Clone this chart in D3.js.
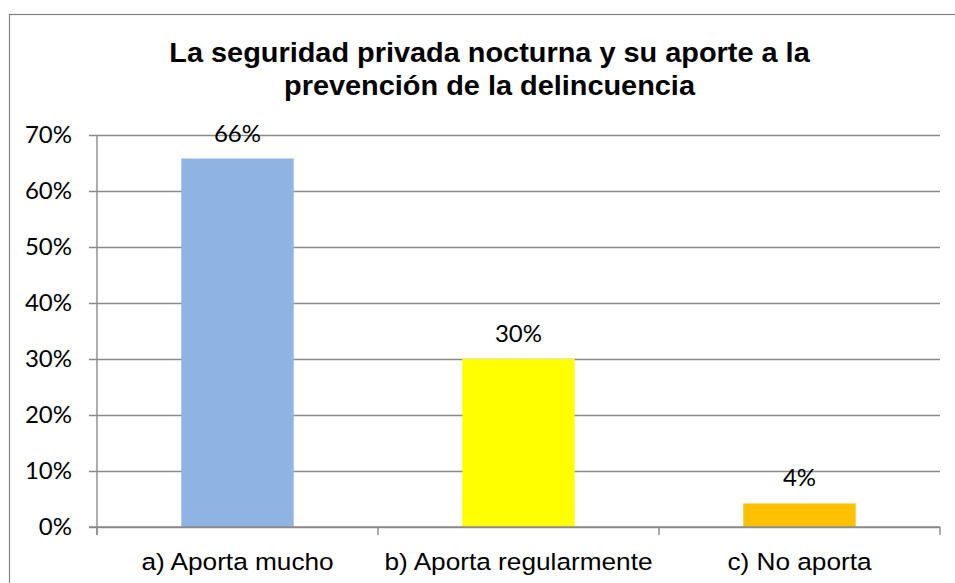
<!DOCTYPE html>
<html>
<head>
<meta charset="utf-8">
<script src="https://cdn.jsdelivr.net/npm/d3@7"></script>
<style>
  html, body { margin: 0; padding: 0; background: #fff; }
  svg { display: block; }
</style>
</head>
<body>
<svg id="chart" width="955" height="583"></svg>
<script>
const titleLines = ["La seguridad privada nocturna y su aporte a la", "prevención de la delincuencia"];
const categories = ["a) Aporta mucho", "b) Aporta regularmente", "c) No aporta"];
const values = [0.658, 0.30, 0.042];
const valueLabels = ["66%", "30%", "4%"];
const barColors = ["#8EB4E3", "#FFFF00", "#FFC000"];
const yTicks = [0, 0.1, 0.2, 0.3, 0.4, 0.5, 0.6, 0.7];

const svg = d3.select("#chart");
const W = 955, H = 583;
const plot = { left: 97, right: 940, top: 135, bottom: 527 };
const gridColor = "#8a8a8a";
const tickFont = "Lato, 'Open Sans', sans-serif";
const stretch = 1.07;

svg.append("rect").attr("width", W).attr("height", H).attr("fill", "#fff");

// outer frame
svg.append("rect")
  .attr("x", 9.5).attr("y", 14.5)
  .attr("width", 960).attr("height", 600)
  .attr("fill", "none").attr("stroke", "#808080").attr("stroke-width", 1.2);

// title
const title = svg.append("g");
titleLines.forEach((t, i) => {
  title.append("text")
    .attr("transform", `translate(489.5,${62 + i * 33}) scale(${stretch},1)`)
    .attr("text-anchor", "middle")
    .attr("font-family", "'Liberation Sans', Arial, sans-serif")
    .attr("font-weight", "bold")
    .attr("font-size", 27)
    .attr("fill", "#000")
    .text(t);
});

const x = d3.scaleBand().domain(categories).range([plot.left, plot.right]).paddingInner(0.6).paddingOuter(0.3);
const y = d3.scaleLinear().domain([0, 0.7]).range([plot.bottom, plot.top]);

// horizontal gridlines with y axis
const yAxis = d3.axisLeft(y).tickValues(yTicks).tickFormat(d3.format(".0%"))
  .tickSize(-(plot.right - plot.left)).tickPadding(17);
const yg = svg.append("g").attr("transform", `translate(${plot.left},0)`).call(yAxis);
yg.select(".domain").remove();
yg.selectAll(".tick line").attr("stroke", gridColor).attr("stroke-width", 1.4).attr("x1", -8);
yg.selectAll(".tick text")
  .attr("font-family", tickFont).attr("font-size", 24).attr("fill", "#000")
  .attr("x", -25);

// y axis vertical line
svg.append("line")
  .attr("x1", plot.left).attr("x2", plot.left)
  .attr("y1", plot.top).attr("y2", plot.bottom + 8)
  .attr("stroke", gridColor).attr("stroke-width", 1.4);

// bars
svg.append("g").selectAll("rect").data(categories).join("rect")
  .attr("x", d => x(d))
  .attr("width", x.bandwidth())
  .attr("y", (d, i) => y(values[i]))
  .attr("height", (d, i) => y(0) - y(values[i]))
  .attr("fill", (d, i) => barColors[i]);

// x axis
svg.append("line")
  .attr("x1", plot.left - 8).attr("x2", plot.right)
  .attr("y1", plot.bottom).attr("y2", plot.bottom)
  .attr("stroke", gridColor).attr("stroke-width", 1.6);
const step = (plot.right - plot.left) / categories.length;
const tickXs = d3.range(categories.length + 1).map(i => plot.left + i * step);
svg.append("g").selectAll("line").data(tickXs).join("line")
  .attr("x1", d => d).attr("x2", d => d)
  .attr("y1", plot.bottom).attr("y2", plot.bottom + 8)
  .attr("stroke", gridColor).attr("stroke-width", 1.4);

// category labels
svg.append("g").selectAll("text").data(categories).join("text")
  .attr("transform", d => `translate(${x(d) + x.bandwidth() / 2},570) scale(${stretch},1)`)
  .attr("text-anchor", "middle")
  .attr("font-family", "'Liberation Sans', Arial, sans-serif")
  .attr("font-size", 24.5)
  .attr("fill", "#000")
  .text(d => d);

// data labels
svg.append("g").selectAll("text").data(categories).join("text")
  .attr("x", d => x(d) + x.bandwidth() / 2)
  .attr("y", (d, i) => y(values[i]) - 17)
  .attr("text-anchor", "middle")
  .attr("font-family", tickFont)
  .attr("font-size", 24)
  .attr("fill", "#000")
  .text((d, i) => valueLabels[i]);
</script>
</body>
</html>
